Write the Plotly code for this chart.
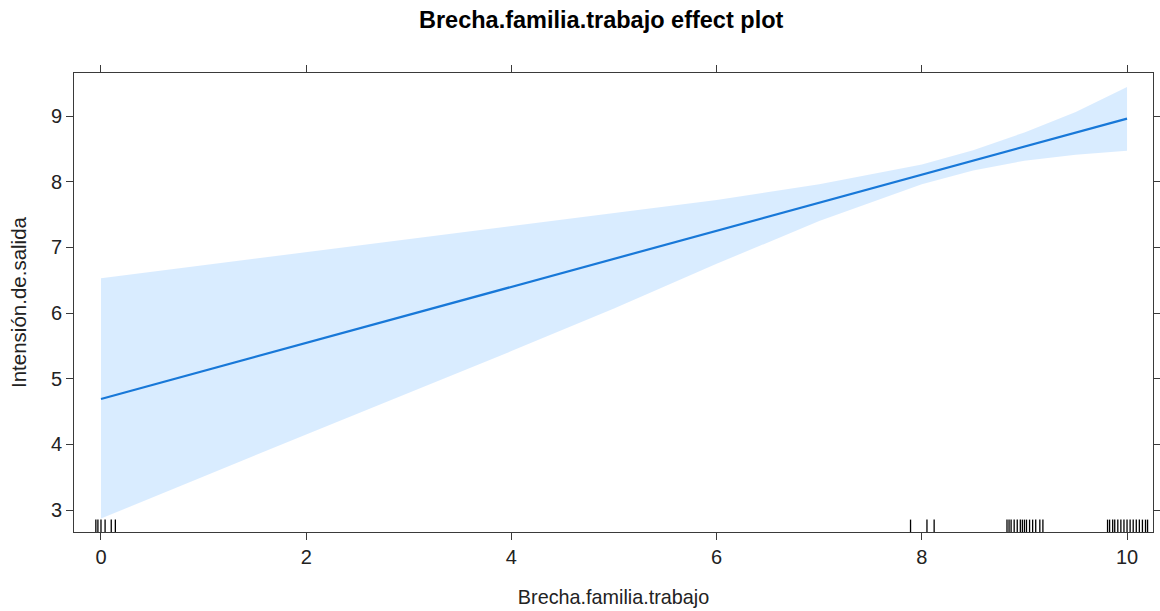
import plotly.graph_objects as go

# ---- data ----
line_x = [0, 10]
line_y = [4.69, 8.96]

band_x = [0, 1, 2, 3, 4, 5, 6, 7, 8, 8.5, 9, 9.5, 10]
band_upper = [6.53, 6.73, 6.92, 7.12, 7.32, 7.52, 7.72, 7.96, 8.26, 8.48, 8.75, 9.06, 9.44]
band_lower = [2.87, 3.51, 4.15, 4.79, 5.42, 6.07, 6.75, 7.40, 7.96, 8.17, 8.32, 8.41, 8.47]

rug_values = [-0.05, -0.03, 0.0, 0.04, 0.10, 0.14,
              7.89, 8.05, 8.12,
              8.83, 8.85, 8.87, 8.90, 8.93, 8.96, 8.98, 9.00, 9.02, 9.05, 9.08, 9.11, 9.15, 9.18,
              9.81, 9.83, 9.86, 9.88, 9.91, 9.94, 9.97, 10.00, 10.03, 10.06, 10.09, 10.12, 10.15, 10.18, 10.20]

x_ticks = [0, 2, 4, 6, 8, 10]
y_ticks = [3, 4, 5, 6, 7, 8, 9]

title_text = "Brecha.familia.trabajo effect plot"
x_title = "Brecha.familia.trabajo"
y_title = "Intensión.de.salida"

# ---- styles ----
FONT = "Liberation Sans, Arial, sans-serif"
LINE_COL = "#1878d8"
BAND_COL = "rgba(0,128,255,0.15)"
AX_COL = "#3a3a3a"

fig = go.Figure()

fig.add_trace(go.Scatter(
    x=band_x + band_x[::-1],
    y=band_upper + band_lower[::-1],
    fill="toself", fillcolor=BAND_COL, line=dict(width=0),
    mode="lines", hoverinfo="skip", showlegend=False))

fig.add_trace(go.Scatter(
    x=line_x, y=line_y, mode="lines",
    line=dict(color=LINE_COL, width=2.2), showlegend=False))

# rug
for v in rug_values:
    fig.add_shape(type="line", xref="x", yref="y domain",
                  x0=v, x1=v, y0=0, y1=0.027,
                  line=dict(color="#000000", width=1.3))

fig.update_layout(
    width=1160, height=611,
    margin=dict(l=74, r=7, t=73, b=79, autoexpand=False),
    paper_bgcolor="white", plot_bgcolor="white",
    font=dict(family=FONT, color="#222222", size=16),
    showlegend=False,
    annotations=[dict(text="<b>" + title_text + "</b>", xref="paper", yref="paper",
                      x=0.489, y=1, yshift=53, xanchor="center", yanchor="middle",
                      showarrow=False, font=dict(size=23.5, color="#000000", family=FONT))],
)

fig.update_xaxes(
    range=[-0.263, 10.253], tickvals=x_ticks, ticks="outside", ticklen=7,
    tickcolor=AX_COL, showline=True, linecolor=AX_COL, linewidth=1, mirror="ticks",
    showgrid=False, zeroline=False, automargin=False,
    title=dict(text=x_title, font=dict(size=19.8, color="#222222"), standoff=23),
    tickfont=dict(size=20, color="#222222"))

fig.update_yaxes(
    range=[2.665, 9.655], tickvals=y_ticks, ticks="outside", ticklen=7,
    tickcolor=AX_COL, showline=True, linecolor=AX_COL, linewidth=1, mirror="ticks",
    showgrid=False, zeroline=False, automargin=False,
    title=dict(text=y_title, font=dict(size=20.5, color="#222222"), standoff=18),
    tickfont=dict(size=20, color="#222222"))

fig.write_html("out.html")
